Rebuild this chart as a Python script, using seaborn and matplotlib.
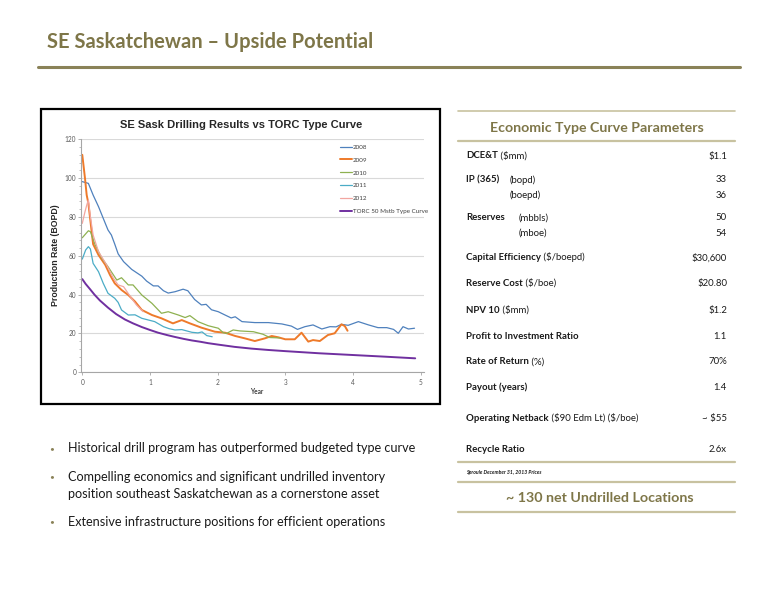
import matplotlib
matplotlib.use("Agg")
import matplotlib.pyplot as plt
from matplotlib.patches import Rectangle
from matplotlib.lines import Line2D
from matplotlib.ticker import MultipleLocator
import seaborn as sns

# Production rate (BOPD) vs years on production
yr_2008 = [0.0, 0.09, 0.16, 0.24, 0.34, 0.38, 0.43, 0.48, 0.53, 0.61, 0.73, 0.88, 0.95, 1.05, 1.12,
           1.2, 1.27, 1.37, 1.49, 1.56, 1.66, 1.76, 1.83, 1.91, 2.01, 2.11, 2.2, 2.26, 2.36, 2.55,
           2.75, 2.95, 3.09, 3.18, 3.29, 3.41, 3.54, 3.66, 3.75, 3.83, 3.93, 4.08, 4.23, 4.37, 4.5,
           4.6, 4.67, 4.74, 4.82, 4.91]
bopd_2008 = [98.2, 97.3, 91.3, 85.3, 76.7, 73.3, 70.7, 66, 61, 57, 53, 49.5, 47, 44.5, 44.5,
             42, 40.8, 41.5, 42.8, 42, 37.5, 34.7, 35, 32.2, 31.2, 29.5, 28, 28.6, 26.1, 25.6,
             25.6, 24.9, 23.8, 22.1, 23.5, 24.4, 22.3, 23.5, 23.4, 24.7, 24.2, 26.1, 24.4, 23, 23,
             22.1, 20.1, 23.5, 22.3, 22.7]

yr_2009 = [0.0, 0.04, 0.065, 0.09, 0.11, 0.16, 0.24, 0.34, 0.41, 0.48, 0.58, 0.68, 0.78, 0.88, 1.03,
           1.17, 1.34, 1.47, 1.59, 1.76, 1.96, 2.11, 2.26, 2.40, 2.55, 2.70, 2.80, 2.90, 3.0, 3.14,
           3.24, 3.34, 3.41, 3.51, 3.63, 3.73, 3.83, 3.88, 3.92]
bopd_2009 = [112, 99.9, 91.3, 87, 81, 66, 60.4, 55.3, 50.1, 45.8, 42.4, 39.8, 36.4, 32.1, 29.5,
             27.8, 25.2, 26.9, 25.2, 23, 20.9, 20.4, 18.7, 17.5, 16.1, 17.5, 18.7, 18, 17, 17,
             20.4, 15.8, 16.6, 16.1, 19.2, 20.1, 24.7, 23.8, 21.4]

yr_2010 = [0.0, 0.09, 0.12, 0.19, 0.29, 0.38, 0.51, 0.58, 0.68, 0.75, 0.88, 1.03, 1.17, 1.27, 1.42,
           1.52, 1.59, 1.71, 1.86, 2.01, 2.08, 2.13, 2.23, 2.33, 2.53, 2.67, 2.77, 2.92]
bopd_2010 = [69.3, 72.9, 72.4, 65.6, 58.7, 54.4, 47.5, 48.7, 45, 45, 39.8, 35.5, 30.4, 31.2, 29.5,
             28.2, 29.2, 26.1, 24, 22.7, 20.5, 20, 21.8, 21.3, 20.9, 19.6, 17.9, 17.7]

yr_2011 = [0.0, 0.05, 0.09, 0.12, 0.16, 0.24, 0.31, 0.38, 0.48, 0.53, 0.58, 0.68, 0.78, 0.88, 0.97,
           1.07, 1.20, 1.28, 1.37, 1.47, 1.62, 1.71, 1.77, 1.84, 1.92]
bopd_2011 = [58.3, 63, 64.7, 63.5, 56.1, 51.8, 45.8, 40.7, 38.1, 36, 32.1, 29.5, 29.6, 27.8, 27,
             26.1, 23.5, 22.5, 21.8, 22, 20.6, 20.3, 20.8, 18.9, 18.3]

yr_2012 = [0.0, 0.04, 0.065, 0.09, 0.12, 0.16, 0.24, 0.36, 0.46, 0.53, 0.61, 0.71, 0.80, 0.90]
bopd_2012 = [76.7, 82.7, 86, 88.8, 80, 70.7, 62.1, 55.3, 48.4, 45, 44.1, 39, 34.7, 31.2]

yr_torc = [0.0, 0.05, 0.11, 0.18, 0.26, 0.38, 0.5, 0.63, 0.75, 0.88, 1.0, 1.12, 1.25, 1.37, 1.5,
           1.62, 1.75, 1.86, 2.0, 2.25, 2.5, 2.75, 3.0, 3.5, 4.0, 4.5, 4.92]
bopd_torc = [48, 45.5, 43, 40, 37, 33.3, 30, 27.2, 25.2, 23.3, 21.8, 20.4, 19.2, 18.2, 17.2,
             16.4, 15.7, 15, 14.3, 13.1, 12.2, 11.5, 10.9, 9.8, 8.9, 8.0, 7.2]

series_names = ["2008", "2009", "2010", "2011", "2012", "TORC 50 Mstb Type Curve"]
x_ticks = [0, 1, 2, 3, 4, 5]
y_ticks = [0, 20, 40, 60, 80, 100, 120]

# table on the right
param_bold = ["DCE&T", "IP (365)", "", "Reserves", "", "Capital Efficiency", "Reserve Cost",
              "NPV 10", "Profit to Investment Ratio", "Rate of Return", "Payout (years)",
              "Operating Netback", "Recycle Ratio"]
param_unit = [" ($mm)", "(bopd)", "(boepd)", "(mbbls)", "(mboe)", " ($/boepd)", " ($/boe)",
              " ($mm)", "", " (%)", "", " ($90 Edm Lt) ($/boe)", ""]
param_value = ["$1.1", "33", "36", "50", "54", "$30,600", "$20.80", "$1.2", "1.1", "70%",
               "1.4", "~ $55", "2.6x"]

bullet_lines = [
    "Historical drill program has outperformed budgeted type curve",
    "Compelling economics and significant undrilled inventory",
    "position southeast Saskatchewan as a cornerstone asset",
    "Extensive infrastructure positions for efficient operations",
]
bullet_start = [True, True, False, True]

sns.set_theme(style="white")
plt.rcParams['font.family'] = ['Lato', 'DejaVu Sans']

W, H = 776, 600
fig = plt.figure(figsize=(7.76, 6.0), dpi=100)


def fx(x):
    return x / W


def fy(y):
    return 1 - y / H


OLIVE = '#7E7648'
RULE = '#C8C2A0'
TXT = '#1A1A1A'

# page header
fig.text(fx(47), fy(42), "SE Saskatchewan \u2013 Upside Potential", fontsize=14.5,
         fontweight='bold', color=OLIVE, va='center', ha='left')
fig.add_artist(Line2D([fx(38), fx(740)], [fy(67), fy(67)], color='#8A8258', lw=2.2))

# chart box
fig.add_artist(Rectangle((fx(41), fy(404)), (440 - 41) / W, (404 - 109) / H,
                         fill=False, ec='black', lw=1.6))

ax = fig.add_axes([fx(81), fy(372.3), 343 / W, 233 / H])
colors = ['#4F81BD', '#EE7A2A', '#8EB150', '#4BACC6', '#F2A6A0', '#7030A0']
widths = [0.9, 1.4, 0.9, 0.9, 0.9, 1.4]
xs = [yr_2008, yr_2009, yr_2010, yr_2011, yr_2012, yr_torc]
ys = [bopd_2008, bopd_2009, bopd_2010, bopd_2011, bopd_2012, bopd_torc]
for name, x, y, c, lw in zip(series_names, xs, ys, colors, widths):
    sns.lineplot(x=x, y=y, ax=ax, color=c, lw=lw, label=name, sort=False)

ax.set_xlim(-0.019, 5.05)
ax.set_ylim(0, 120)
ax.set_xticks(x_ticks)
ax.set_yticks(y_ticks)
ax.yaxis.set_minor_locator(MultipleLocator(4))
ax.yaxis.grid(True, color='#D9D9D9', lw=0.8)
ax.set_axisbelow(True)
for s in ['top', 'right']:
    ax.spines[s].set_visible(False)
for s in ['left', 'bottom']:
    ax.spines[s].set_color('#A6A6A6')
    ax.spines[s].set_linewidth(0.8)
ax.tick_params(axis='both', which='major', labelsize=4.7, labelcolor='#595959',
               color='#A6A6A6', length=2, width=0.6, direction='out')
ax.tick_params(axis='y', which='minor', color='#A6A6A6', length=1.5, width=0.5, left=True)
ax.tick_params(axis='y', which='major', left=True, pad=1.5)
ax.tick_params(axis='x', which='major', bottom=True, pad=2.8)
ax.set_xlabel("")
ax.set_ylabel("")

leg = ax.legend(loc='upper left', bbox_to_anchor=(0.755, 0.978), frameon=False, fontsize=4.5,
                handlelength=1.9, handletextpad=0.15, labelspacing=1.2, borderpad=0,
                borderaxespad=0)
for t in leg.get_texts():
    t.set_color('#404040')

fig.text(fx(241), fy(125), "SE Sask Drilling Results vs TORC Type Curve", fontsize=8,
         fontweight='bold', family='Liberation Sans', ha='center', va='center')
fig.text(fx(55.5), fy(255.5), "Production Rate (BOPD)", fontsize=6.3, fontweight='bold',
         family='Liberation Sans', rotation=90, ha='center', va='center')
fig.text(fx(257), fy(392), "Year", fontsize=4.7, fontweight='bold', color='#404040',
         ha='center', va='center')

# right panel: economic parameters
for y, lw in [(111, 1.2), (141, 1.6), (461.7, 1.6), (481.7, 1.6), (512, 1.6)]:
    fig.add_artist(Line2D([fx(458), fx(735)], [fy(y), fy(y)], color=RULE, lw=lw))
fig.text(fx(596.5), fy(128), "Economic Type Curve Parameters", fontsize=10.2, fontweight='bold',
         color=OLIVE, ha='center', va='center')

FS = 6.9
row_y = [156, 180, 195, 217.7, 233, 257.7, 283.3, 310, 336, 361.7, 387.3, 418.3, 449]
unit_x = {1: 510, 2: 510, 3: 519, 4: 519}
for i, (b, u, v, y) in enumerate(zip(param_bold, param_unit, param_value, row_y)):
    if i in unit_x:
        if b:
            fig.text(fx(466), fy(y), b, fontsize=FS, fontweight='bold', color=TXT,
                     va='center', ha='left', parse_math=False)
        fig.text(fx(unit_x[i]), fy(y), u, fontsize=FS, color=TXT, va='center', ha='left',
                 parse_math=False)
    else:
        t = fig.text(fx(466), fy(y), b, fontsize=FS, fontweight='bold', color=TXT,
                     va='center', ha='left', parse_math=False)
        if u:
            a = ax.annotate(u, xy=(1, 0), xycoords=t, fontsize=FS, color=TXT, va='bottom',
                            ha='left', annotation_clip=False)
            a.set_parse_math(False)
    fig.text(fx(727), fy(y), v, fontsize=FS, color=TXT, va='center', ha='right',
             parse_math=False)

fig.text(fx(466), fy(472.7), "Sproule December 31, 2013 Prices", fontsize=3.7,
         fontweight='bold', fontstyle='italic', color=TXT, va='center', ha='left')
fig.text(fx(600), fy(498.3), "~ 130 net Undrilled Locations", fontsize=10.3,
         fontweight='bold', color=OLIVE, ha='center', va='center')

# bullets
bullet_y = [448.3, 476.7, 494, 521.7]
for txt, y, first in zip(bullet_lines, bullet_y, bullet_start):
    if first:
        fig.text(fx(52), fy(y), "\u2022", fontsize=6, color='#8A8258', va='center', ha='center')
    fig.text(fx(68), fy(y), txt, fontsize=9.1, color=TXT, va='center', ha='left')

fig.savefig("out.png", dpi=100, facecolor='white')
